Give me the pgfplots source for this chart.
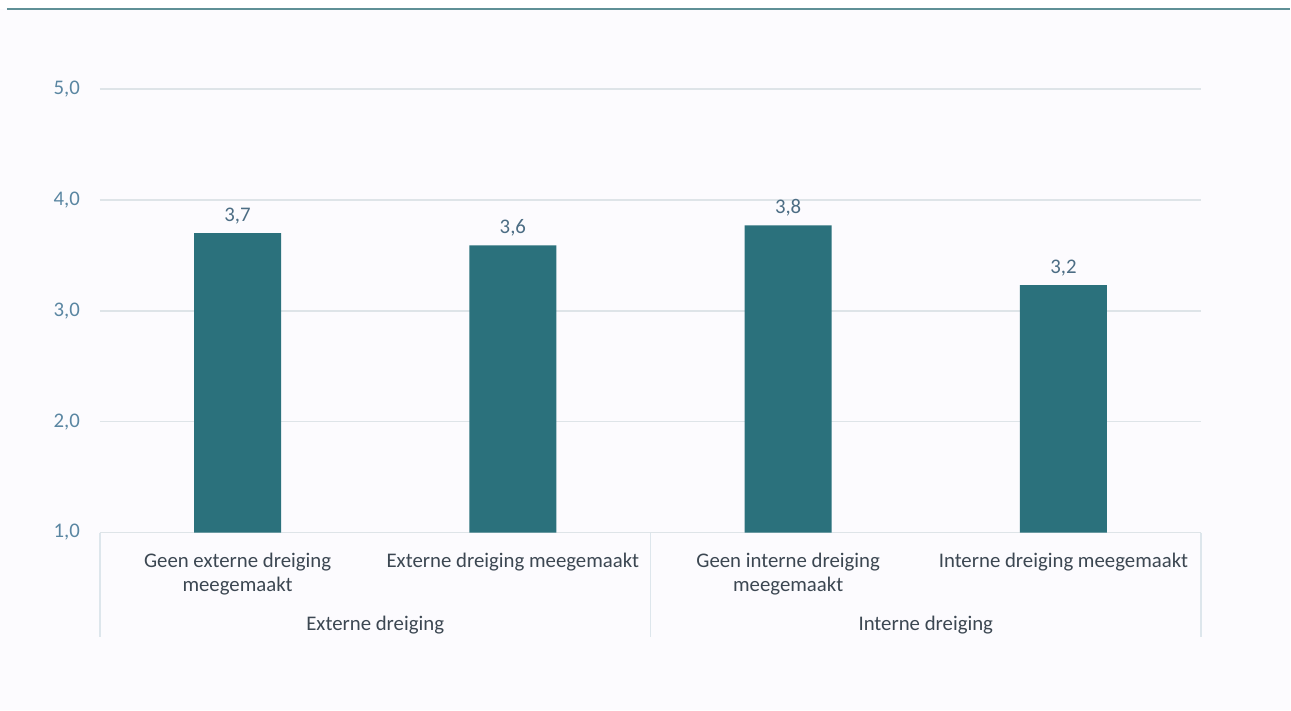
\documentclass[border=0pt]{standalone}
\usepackage{pgfplots}
\pgfplotsset{compat=1.18}
\usepackage{fontspec}
\setmainfont{Carlito}

\definecolor{bg}{HTML}{FCFBFE}
\definecolor{topline}{HTML}{5F9096}
\definecolor{barc}{HTML}{2B717C}
\definecolor{gridc}{HTML}{DEE4E8}
\definecolor{sepc}{HTML}{DDE6EC}
\definecolor{ytickc}{HTML}{5A86A2}
\definecolor{barlab}{HTML}{4C6D84}
\definecolor{catc}{HTML}{3C4752}

\newcommand\chartfont{\fontsize{10.4}{12}\selectfont}

\begin{document}
\begin{tikzpicture}
  % canvas and rule at the top
  \fill[white] (0,0) rectangle (645.5pt,355.5pt);
  \fill[bg] (0,0) rectangle (645.5pt,351pt);
  \draw[topline, line width=1pt] (3.5pt,351pt) -- (645.5pt,351pt);

  \begin{axis}[
    at={(50pt,89pt)}, anchor=south west,
    scale only axis, width=551pt, height=222pt,
    xmin=-0.5, xmax=3.5, ymin=1, ymax=5,
    ytick={1,2,3,4,5},
    xtick=data,
    xticklabels={Geen externe dreiging\\meegemaakt,
                 Externe dreiging meegemaakt,
                 Geen interne dreiging\\meegemaakt,
                 Interne dreiging meegemaakt},
    major tick length=0pt,
    axis x line*=bottom, axis y line*=left,
    x axis line style={draw=gridc, line width=0.8pt},
    y axis line style={draw=none},
    ymajorgrids, grid style={draw=gridc, line width=0.8pt},
    /pgf/number format/.cd, fixed, fixed zerofill, precision=1, use comma, assume math mode=true,
    /pgfplots/.cd,
    yticklabel style={font=\chartfont, color=ytickc, xshift=-6.5pt},
    xticklabel style={font=\chartfont, color=catc, align=center, yshift=-6.5pt},
    ybar, bar width=43.5pt,
    nodes near coords,
    every node near coord/.append style={font=\chartfont, color=barlab, yshift=0.9pt},
    clip=false,
  ]
    \addplot[fill=barc, draw=none] coordinates {(0,3.70) (1,3.59) (2,3.77) (3,3.23)};

    % group separators and group names
    \draw[sepc, line width=0.8pt] (axis cs:-0.5,1) -- ([yshift=-52pt]axis cs:-0.5,1);
    \draw[sepc, line width=0.8pt] (axis cs:1.5,1) -- ([yshift=-52pt]axis cs:1.5,1);
    \draw[sepc, line width=0.8pt] (axis cs:3.5,1) -- ([yshift=-52pt]axis cs:3.5,1);
    \node[font=\chartfont, color=catc] at ([yshift=-46.5pt]axis cs:0.5,1) {Externe dreiging};
    \node[font=\chartfont, color=catc] at ([yshift=-46.5pt]axis cs:2.5,1) {Interne dreiging};
  \end{axis}
\end{tikzpicture}
\end{document}
